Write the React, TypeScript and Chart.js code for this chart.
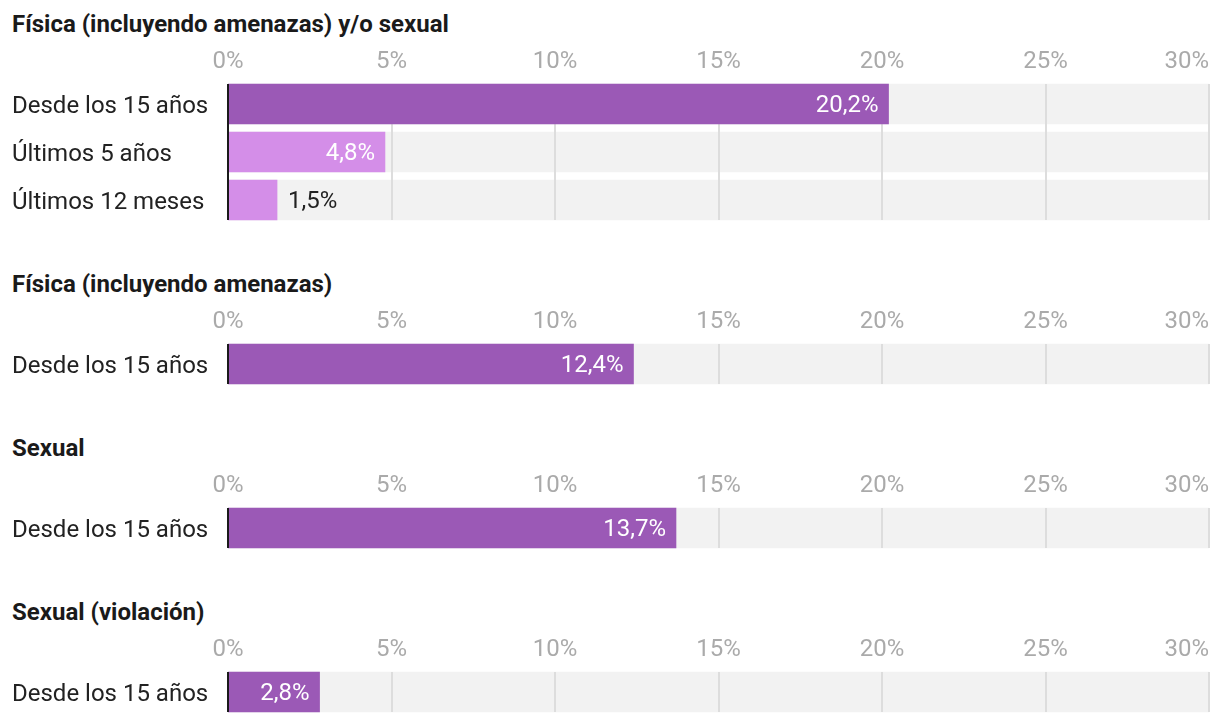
import React, { useEffect, useRef } from 'react';
import { Chart, registerables } from 'chart.js';

Chart.register(...registerables);

const panelTitles = [
  'Física (incluyendo amenazas) y/o sexual',
  'Física (incluyendo amenazas)',
  'Sexual',
  'Sexual (violación)',
];

const labels1 = ['Desde los 15 años', 'Últimos 5 años', 'Últimos 12 meses'];
const values1 = [20.2, 4.8, 1.5];
const labels2 = ['Desde los 15 años'];
const values2 = [12.4];
const labels3 = ['Desde los 15 años'];
const values3 = [13.7];
const labels4 = ['Desde los 15 años'];
const values4 = [2.8];

const xTicks = [0, 5, 10, 15, 20, 25, 30];
const xMax = 30;

const DARK = '#9b59b6';
const LIGHT = '#d48ee8';
const TRACK = '#f2f2f2';
const GRID = '#dddddd';
const TEXT = '#222222';
const TICK = '#aaaaaa';
const FONT = 'Roboto';

const colors1 = [DARK, LIGHT, LIGHT];
const colors2 = [DARK];
const colors3 = [DARK];
const colors4 = [DARK];

const fmt = (v: number) => v.toFixed(1).replace('.', ',') + '%';

const decoPlugin = {
  id: 'panelDeco',
  afterDatasetDraw(chart: any, args: any) {
    if (args.index !== 0) return;
    const meta = chart.getDatasetMeta(0);
    const first = meta.data[0];
    const last = meta.data[meta.data.length - 1];
    const top = first.y - first.height / 2;
    const bottom = last.y + last.height / 2;
    const xs = chart.scales.x;
    const ctx = chart.ctx;
    ctx.save();
    ctx.strokeStyle = GRID;
    ctx.lineWidth = 2;
    xTicks.forEach((t) => {
      if (t === 0) return;
      const px = Math.round(xs.getPixelForValue(t));
      ctx.beginPath();
      ctx.moveTo(px, top);
      ctx.lineTo(px, bottom);
      ctx.stroke();
    });
    ctx.restore();
  },
  afterDatasetsDraw(chart: any) {
    const ctx = chart.ctx;
    const xs = chart.scales.x;
    const trackMeta = chart.getDatasetMeta(0);
    const first = trackMeta.data[0];
    const last = trackMeta.data[trackMeta.data.length - 1];
    const top = first.y - first.height / 2;
    const bottom = last.y + last.height / 2;
    ctx.save();
    const meta = chart.getDatasetMeta(1);
    const vals = chart.data.datasets[1].data;
    ctx.font = `24px ${FONT}`;
    ctx.textBaseline = 'middle';
    meta.data.forEach((bar: any, i: number) => {
      const txt = fmt(vals[i]);
      const w = ctx.measureText(txt).width;
      const barW = bar.x - bar.base;
      if (w + 20 < barW) {
        ctx.fillStyle = '#ffffff';
        ctx.textAlign = 'right';
        ctx.fillText(txt, bar.x - 10, bar.y + 2);
      } else {
        ctx.fillStyle = TEXT;
        ctx.textAlign = 'left';
        ctx.fillText(txt, bar.x + 11, bar.y + 2);
      }
    });
    const zx = Math.round(xs.getPixelForValue(0));
    ctx.strokeStyle = '#1a1a1a';
    ctx.lineWidth = 2;
    ctx.beginPath();
    ctx.moveTo(zx, top);
    ctx.lineTo(zx, bottom);
    ctx.stroke();
    ctx.restore();
  },
  afterDraw(chart: any) {
    const ctx = chart.ctx;
    const xs = chart.scales.x;
    ctx.save();
    ctx.font = `24px ${FONT}`;
    ctx.fillStyle = TICK;
    ctx.textBaseline = 'middle';
    xTicks.forEach((t) => {
      const px = xs.getPixelForValue(t);
      const txt = t + '%';
      const w = ctx.measureText(txt).width;
      ctx.textAlign = px + w / 2 > chart.width ? 'right' : 'center';
      ctx.fillText(txt, px, 22);
    });
    ctx.restore();
  },
};

type PanelProps = {
  title: string;
  labels: string[];
  values: number[];
  colors: string[];
  barTop: number;
};

function Panel({ title, labels, values, colors, barTop }: PanelProps) {
  const ref = useRef<HTMLCanvasElement | null>(null);
  const height = 40 + labels.length * 48;
  useEffect(() => {
    if (!ref.current) return;
    const chart = new Chart(ref.current, {
      type: 'bar',
      data: {
        labels,
        datasets: [
          {
            data: labels.map(() => xMax),
            backgroundColor: TRACK,
            barThickness: 40,
            grouped: false,
            order: 2,
          } as any,
          {
            data: values,
            backgroundColor: colors,
            barThickness: 40,
            grouped: false,
            order: 1,
          } as any,
        ],
      },
      options: {
        indexAxis: 'y',
        animation: false,
        responsive: false,
        maintainAspectRatio: false,
        devicePixelRatio: 1,
        layout: { padding: { left: 12, right: 11, top: 40, bottom: 0 } },
        plugins: { legend: { display: false }, tooltip: { enabled: false } },
        scales: {
          x: {
            type: 'linear',
            min: 0,
            max: xMax,
            display: false,
          },
          y: {
            type: 'category',
            grid: { display: false },
            border: { display: false },
            ticks: {
              crossAlign: 'far',
              color: TEXT,
              font: { family: FONT, size: 24 },
              padding: 0,
              labelOffset: 3,
            },
            afterFit: (scale: any) => {
              scale.width = 216;
              scale.paddingTop = 0;
              scale.paddingBottom = 0;
            },
          },
        },
      } as any,
      plugins: [decoPlugin as any],
    });
    return () => chart.destroy();
  }, []);
  return (
    <>
      <div
        style={{
          position: 'absolute',
          left: 12,
          top: barTop - 74.5,
          height: 28,
          lineHeight: '28px',
          fontFamily: FONT,
          fontWeight: 700,
          fontSize: 24,
          color: '#1a1a1a',
          whiteSpace: 'nowrap',
        }}
      >
        {title}
      </div>
      <canvas
        ref={ref}
        width={1220}
        height={height}
        style={{ position: 'absolute', left: 0, top: barTop - 44, width: 1220, height }}
      />
    </>
  );
}

export default function App() {
  return (
    <div
      style={{
        position: 'absolute',
        left: 0,
        top: 0,
        width: 1220,
        height: 722,
        background: '#ffffff',
        overflow: 'hidden',
      }}
    >
      <Panel title={panelTitles[0]} labels={labels1} values={values1} colors={colors1} barTop={84} />
      <Panel title={panelTitles[1]} labels={labels2} values={values2} colors={colors2} barTop={344} />
      <Panel title={panelTitles[2]} labels={labels3} values={values3} colors={colors3} barTop={508} />
      <Panel title={panelTitles[3]} labels={labels4} values={values4} colors={colors4} barTop={672} />
    </div>
  );
}
